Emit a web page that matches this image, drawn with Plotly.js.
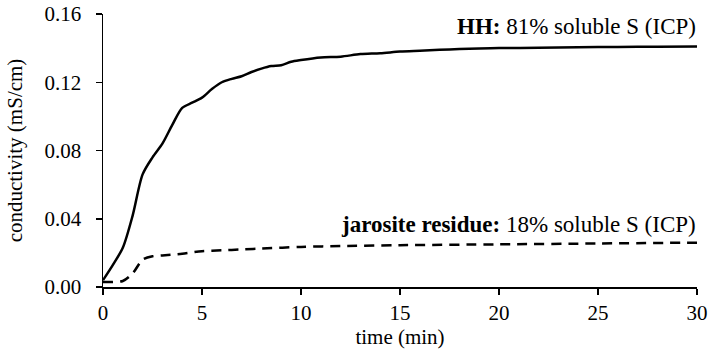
<!DOCTYPE html>
<html>
<head>
<meta charset="utf-8">
<script src="https://cdn.plot.ly/plotly-3.0.1.min.js"></script>
<style>html,body{margin:0;padding:0;background:#fff;}#chart{width:709px;height:353px;}</style>
</head>
<body>
<div id="chart"></div>
<script>
const hhTime = [0,0.5,1,1.5,2,2.5,3,3.5,4,4.5,5,5.5,6,6.5,7,7.5,8,8.5,9,9.5,10,11,12,13,14,15,16,17,18,19,20,22,24,26,28,30];
const hhCond = [0.004,0.013,0.023,0.042,0.066,0.076,0.084,0.095,0.105,0.108,0.111,0.116,0.120,0.122,0.1235,0.126,0.128,0.1295,0.130,0.132,0.133,0.1345,0.135,0.1365,0.137,0.138,0.1385,0.139,0.1395,0.1398,0.140,0.1402,0.1405,0.1407,0.1408,0.1409];
const jarTime = [0,0.5,1,1.5,2,2.5,3,4,5,6,7,8,10,12,15,20,25,30];
const jarCond = [0.003,0.003,0.0035,0.008,0.016,0.018,0.0185,0.0195,0.021,0.0215,0.022,0.0225,0.0235,0.024,0.0245,0.025,0.0255,0.026];
const xTicks = [0,5,10,15,20,25,30];
const yTicks = [0,0.04,0.08,0.12,0.16];
const yTickText = ["0.00","0.04","0.08","0.12","0.16"];

const font = {family: "Liberation Serif, Times New Roman, serif", size: 21, color: "#000"};
const annFont = {family: "Liberation Serif, Times New Roman, serif", size: 23, color: "#000"};

const traces = [
  {x: hhTime, y: hhCond, mode: "lines", line: {color: "#000", width: 2.5, shape: "spline", smoothing: 0.8}, hoverinfo: "skip"},
  {x: jarTime, y: jarCond, mode: "lines", line: {color: "#000", width: 2.5, dash: "10px,7px", shape: "spline", smoothing: 0.8}, hoverinfo: "skip"}
];

const layout = {
  width: 709, height: 353,
  margin: {l: 103, r: 12, t: 14, b: 66},
  paper_bgcolor: "#fff", plot_bgcolor: "#fff",
  showlegend: false,
  font: font,
  xaxis: {
    range: [0, 30], tickvals: xTicks, ticks: "outside", ticklen: 6, tickwidth: 1.5, tickcolor: "#000",
    showline: true, linecolor: "#000", linewidth: 1.5, showgrid: false, zeroline: false,
    tickfont: font, title: {text: "time (min)", font: font, standoff: 4}
  },
  yaxis: {
    range: [0, 0.16], tickvals: yTicks, ticktext: yTickText, ticks: "outside", ticklen: 6, tickwidth: 1.5, tickcolor: "#000",
    showline: true, linecolor: "#000", linewidth: 1.5, showgrid: false, zeroline: false,
    ticklabelstandoff: 10,
    tickfont: font, title: {text: "conductivity (mS/cm)", font: font, standoff: 16}
  },
  annotations: [
    {xref: "paper", yref: "paper", x: 1.002, y: 0.955, xanchor: "right", yanchor: "middle", showarrow: false,
     text: "<b>HH:</b> 81% soluble S (ICP)", font: annFont},
    {xref: "paper", yref: "paper", x: 1.002, y: 0.23, xanchor: "right", yanchor: "middle", showarrow: false,
     text: "<b>jarosite residue:</b> 18% soluble S (ICP)", font: annFont}
  ]
};

Plotly.newPlot("chart", traces, layout, {displayModeBar: false, staticPlot: true});
</script>
</body>
</html>
